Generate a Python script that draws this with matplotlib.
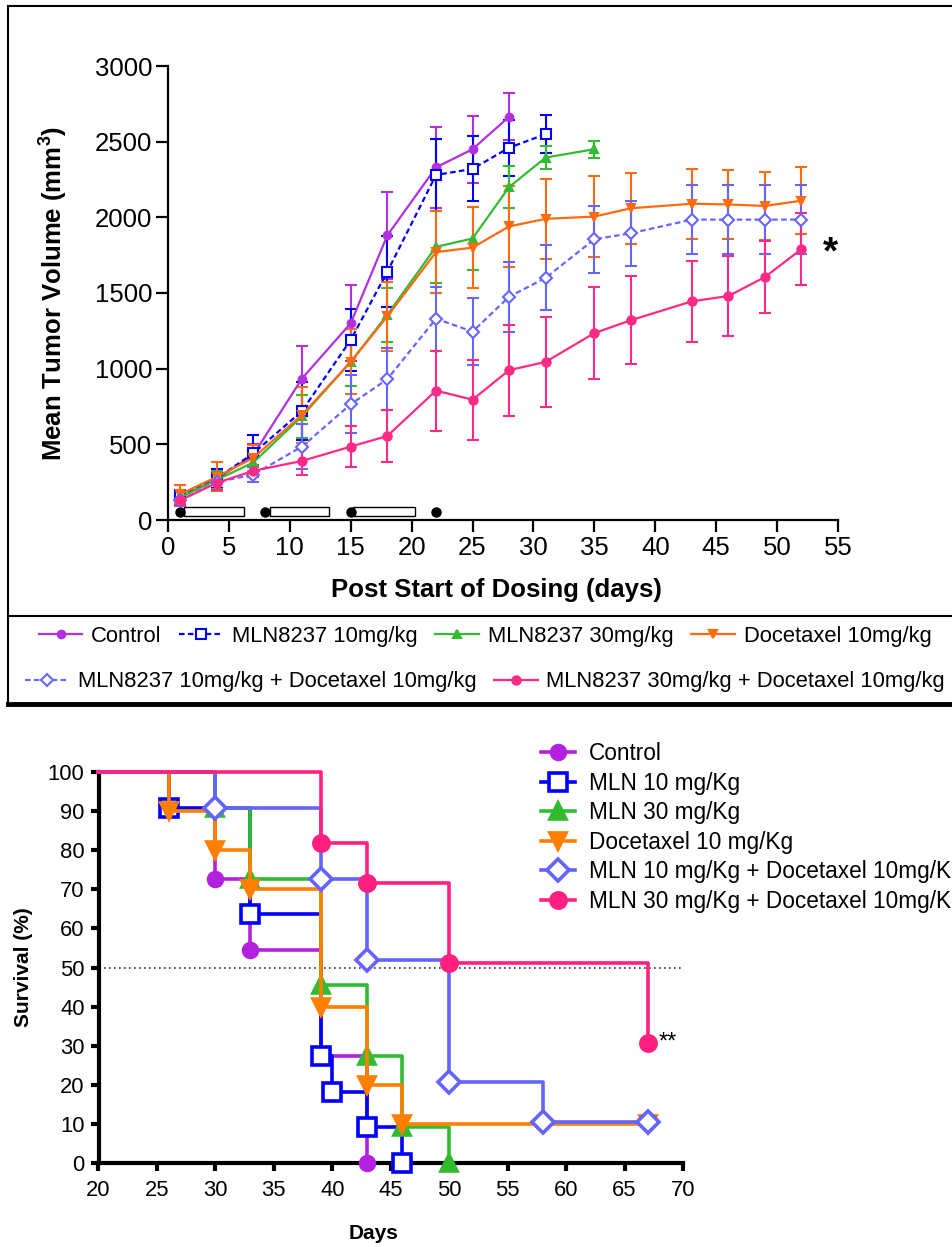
import numpy as np
import matplotlib.pyplot as plt
from matplotlib.lines import Line2D
from matplotlib.patches import Rectangle

plt.rcParams['font.family'] = ['Liberation Sans', 'DejaVu Sans']
plt.rcParams['mathtext.fontset'] = 'custom'
plt.rcParams['mathtext.rm'] = 'Liberation Sans'
plt.rcParams['mathtext.bf'] = 'Liberation Sans:bold'

# ---- tumour volume data (mean +/- sem, mm3) ----
days = [1, 4, 7, 11, 15, 18, 22, 25, 28, 31, 35, 38, 43, 46, 49, 52]

control_mean = [150, 270, 430, 935, 1300, 1880, 2330, 2450, 2665]
control_sem = [35, 60, 70, 215, 250, 290, 270, 220, 155]

mln10_mean = [160, 275, 440, 720, 1190, 1640, 2280, 2320, 2460, 2550]
mln10_sem = [40, 65, 120, 190, 205, 235, 235, 215, 185, 125]

mln30_mean = [150, 265, 380, 685, 1045, 1355, 1805, 1860, 2200, 2395, 2450]
mln30_sem = [40, 60, 60, 140, 160, 180, 240, 210, 140, 75, 55]

doc_mean = [170, 285, 410, 695, 1045, 1345, 1770, 1800, 1940, 1990, 2005, 2060, 2090, 2085, 2075, 2110]
doc_sem = [60, 95, 85, 185, 215, 230, 270, 270, 270, 265, 265, 235, 230, 225, 225, 220]

combo10_mean = [130, 250, 300, 485, 765, 930, 1330, 1245, 1475, 1600, 1855, 1895, 1985, 1985, 1985, 1985]
combo10_sem = [40, 55, 50, 150, 190, 205, 210, 220, 230, 215, 220, 215, 230, 230, 230, 230]

combo30_mean = [130, 245, 325, 390, 485, 555, 855, 795, 990, 1045, 1235, 1320, 1445, 1480, 1605, 1790]
combo30_sem = [30, 45, 40, 95, 135, 175, 265, 265, 300, 295, 305, 290, 268, 262, 240, 240]

top_labels = ['Control', 'MLN8237 10mg/kg', 'MLN8237 30mg/kg', 'Docetaxel 10mg/kg',
              'MLN8237 10mg/kg + Docetaxel 10mg/kg', 'MLN8237 30mg/kg + Docetaxel 10mg/kg']

# dosing schedule
dose_days = [1, 8, 15, 22]
dose_start = [1.3, 8.4, 15.2]
dose_end = [6.2, 13.2, 20.3]

# ---- survival data (%) ----
surv_labels = ['Control', 'MLN 10 mg/Kg', 'MLN 30 mg/Kg', 'Docetaxel 10 mg/Kg',
               'MLN 10 mg/Kg + Docetaxel 10mg/Kg', 'MLN 30 mg/Kg + Docetaxel 10mg/Kg']
control_t = [20, 30, 33, 39, 43]
control_s = [100, 72.7, 54.5, 27.3, 0]
mln10_t = [20, 26, 33, 39, 40, 43, 46]
mln10_s = [100, 90.9, 63.6, 27.3, 18.2, 9.1, 0]
mln30_t = [20, 30, 33, 39, 43, 46, 50]
mln30_s = [100, 90.9, 72.7, 45.5, 27.3, 9.1, 0]
doc_t = [20, 26, 30, 33, 39, 43, 46, 67]
doc_s = [100, 90, 80, 70, 40, 20, 10, 10]
combo10_t = [20, 30, 39, 43, 50, 58, 67]
combo10_s = [100, 90.9, 72.7, 52.0, 20.8, 10.4, 10.4]
combo30_t = [20, 39, 43, 50, 67]
combo30_s = [100, 81.8, 71.6, 51.1, 30.7]

W, H = 952, 1247
fig = plt.figure(figsize=(W / 100, H / 100), dpi=100)

# ================= top panel =================
ax1 = fig.add_axes([168 / W, 1 - 520 / H, (838 - 168) / W, (520 - 66) / H])

top_colors = ['#b130e0', '#0000ff', '#33bb33', '#ff6a10', '#6666ff', '#ff2a86']
top_styles = [
    dict(ls='-', marker='o', ms=5.5, mfc='#b130e0'),
    dict(ls=(0, (2.5, 1.5)), marker='s', ms=6.5, mfc='white'),
    dict(ls='-', marker='^', ms=6, mfc='#33bb33'),
    dict(ls='-', marker='v', ms=6, mfc='#ff6a10'),
    dict(ls=(0, (2.5, 1.5)), marker='D', ms=6, mfc='white'),
    dict(ls='-', marker='o', ms=6, mfc='#ff2a86'),
]
top_means = [control_mean, mln10_mean, mln30_mean, doc_mean, combo10_mean, combo30_mean]
top_sems = [control_sem, mln10_sem, mln30_sem, doc_sem, combo10_sem, combo30_sem]

for mean, sem, c, st in zip(top_means, top_sems, top_colors, top_styles):
    n = len(mean)
    ax1.errorbar(days[:n], mean, yerr=sem, color=c, lw=1.6, mec=c, mew=1.5,
                 capsize=4.5, capthick=1.5, elinewidth=1.5, clip_on=False, **st)

ax1.barh(55, np.array(dose_end) - np.array(dose_start), left=dose_start, height=62,
         color='white', edgecolor='black', lw=1.0, zorder=3)
ax1.plot(dose_days, [55] * len(dose_days), 'o', color='black', ms=6.5, zorder=4, clip_on=False)

ax1.text(54.4, 1760, '*', fontsize=28, fontweight='bold', ha='center', va='center')

ax1.set_xlim(0, 55)
ax1.set_ylim(0, 3000)
ax1.set_xticks(range(0, 56, 5))
ax1.set_yticks(range(0, 3001, 500))
for s in ['top', 'right']:
    ax1.spines[s].set_visible(False)
for s in ['left', 'bottom']:
    ax1.spines[s].set_linewidth(1.6)
ax1.tick_params(labelsize=18.5, length=8.5, width=1.6, pad=3)
ax1.set_xlabel('Post Start of Dosing (days)', fontsize=18.5, fontweight='bold')
ax1.set_ylabel('Mean Tumor Volume (mm$^\\mathbf{3}$)', fontsize=18.5, fontweight='bold')
ax1.xaxis.set_label_coords(0.49, -0.128)
ax1.yaxis.set_label_coords(-0.148, 0.5)

top_handles = [Line2D([], [], color=c, lw=1.6, mec=c, mew=1.5, **st)
               for c, st in zip(top_colors, top_styles)]
leg_kw = dict(frameon=False, fontsize=15.8, handlelength=2.0, handletextpad=0.4,
              columnspacing=0.8, borderpad=0, borderaxespad=0, loc='center')
fig.legend(top_handles[:4], top_labels[:4], ncol=4, bbox_to_anchor=(485 / W, 1 - 636 / H), **leg_kw)
fig.legend(top_handles[4:], top_labels[4:], ncol=2, bbox_to_anchor=(485 / W, 1 - 682 / H), **leg_kw)

# frame around the top panel and its legend
fig.add_artist(Rectangle((8 / W, 1 - 704 / H), 1.2, (704 - 6) / H, transform=fig.transFigure,
                         fill=False, ec='black', lw=1.5))
fig.add_artist(Line2D([8 / W, 1], [1 - 616 / H] * 2, transform=fig.transFigure, color='black', lw=1.5))
fig.add_artist(Line2D([8 / W, 1], [1 - 704 / H] * 2, transform=fig.transFigure, color='black', lw=3.5))

# ================= bottom panel =================
ax2 = fig.add_axes([98.5 / W, 1 - 1163 / H, (683 - 98.5) / W, (1163 - 772) / H])

bot_colors = ['#b420e0', '#0000ff', '#30bb30', '#ff8000', '#6464ff', '#ff2080']
bot_styles = [
    dict(marker='o', ms=10, mfc='#b420e0'),
    dict(marker='s', ms=13, mfc='white'),
    dict(marker='^', ms=11.5, mfc='#30bb30'),
    dict(marker='v', ms=11.5, mfc='#ff8000'),
    dict(marker='D', ms=11.5, mfc='white'),
    dict(marker='o', ms=11, mfc='#ff2080'),
]
surv_t = [control_t, mln10_t, mln30_t, doc_t, combo10_t, combo30_t]
surv_s = [control_s, mln10_s, mln30_s, doc_s, combo10_s, combo30_s]

ax2.axhline(50, color='#333333', ls=(0, (1, 2)), lw=1.2, zorder=1)
for t, s, c, st in zip(surv_t, surv_s, bot_colors, bot_styles):
    ax2.plot(t, s, drawstyle='steps-post', color=c, lw=2.6, mec=c, mew=2.6,
             markevery=list(range(1, len(t))), clip_on=False, zorder=3, **st)

ax2.text(67.9, 30.7, '**', fontsize=17, ha='left', va='center')

ax2.set_xlim(20, 70)
ax2.set_ylim(0, 100)
ax2.set_xticks(range(20, 71, 5))
ax2.set_yticks(range(0, 101, 10))
for s in ['top', 'right']:
    ax2.spines[s].set_visible(False)
for s in ['left', 'bottom']:
    ax2.spines[s].set_linewidth(3)
ax2.tick_params(labelsize=15.8, length=6, width=3)
ax2.tick_params(axis='x', pad=6)
ax2.tick_params(axis='y', pad=4)
ax2.set_xlabel('Days', fontsize=15, fontweight='bold')
ax2.set_ylabel('Survival (%)', fontsize=15, fontweight='bold')
ax2.xaxis.set_label_coords(0.47, -0.155)
ax2.yaxis.set_label_coords(-0.112, 0.5)

bot_handles = [Line2D([], [], color=c, lw=2.6, mec=c, mew=2.6, **st)
               for c, st in zip(bot_colors, bot_styles)]
fig.legend(bot_handles, surv_labels, loc='upper left', bbox_to_anchor=(541 / W, 1 - 742 / H),
           frameon=False, fontsize=16.3, handlelength=1.5, handletextpad=0.6,
           labelspacing=0.29, borderpad=0, borderaxespad=0)

fig.savefig('out.png', dpi=100)
